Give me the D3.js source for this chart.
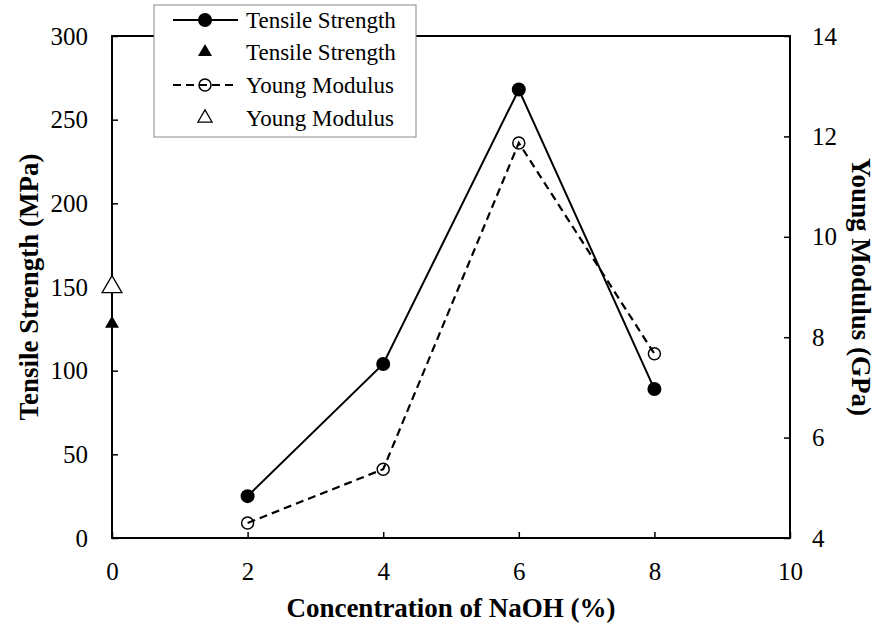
<!DOCTYPE html>
<html>
<head>
<meta charset="utf-8">
<script src="https://cdn.jsdelivr.net/npm/d3@7"></script>
<style>
    body { margin: 0; background: #fff; }
    text { font-family: "Liberation Serif", "Times New Roman", "DejaVu Serif", serif; fill: #000; }
    .axis path { display: none; }
    .axis line { stroke: #000; stroke-width: 1.5; }
    .axis text { font-size: 25px; }
    .title { font-size: 27px; font-weight: bold; }
    .legendText { font-size: 23px; }
</style>
</head>
<body>
<script>
(function(){

    //chart values
    var concentration = [2, 4, 6, 8];            //NaOH concentration (%)
    var tensileStrength = [25, 104, 268, 89];    //MPa
    var youngModulus = [4.3, 5.37, 11.87, 7.67]; //GPa
    var untreatedConc = [0];
    var untreatedTensile = [128];
    var untreatedYoung = [9.0];

    var xTicks = [0, 2, 4, 6, 8, 10];
    var yLeftTicks = [0, 50, 100, 150, 200, 250, 300];
    var yRightTicks = [4, 6, 8, 10, 12, 14];
    var legendLabels = ["Tensile Strength", "Tensile Strength", "Young Modulus", "Young Modulus"];

    window.onload = setChart();

    function setChart(){
        var width = 877,
            height = 625,
            left = 112,
            right = 790,
            top = 36,
            bottom = 538;

        var svg = d3.select("body")
            .append("svg")
            .attr("width", width)
            .attr("height", height);

        //scales
        var x = d3.scaleLinear().domain([0, 10]).range([left, right]);
        var yLeft = d3.scaleLinear().domain([0, 300]).range([bottom, top]);
        var yRight = d3.scaleLinear().domain([4, 14]).range([bottom, top]);

        //axes with inward ticks
        svg.append("g")
            .attr("class", "axis")
            .attr("transform", "translate(" + left + ",0)")
            .call(d3.axisLeft(yLeft).tickValues(yLeftTicks).tickSize(-6).tickPadding(24));

        svg.append("g")
            .attr("class", "axis")
            .attr("transform", "translate(" + right + ",0)")
            .call(d3.axisRight(yRight).tickValues(yRightTicks).tickSize(-6).tickPadding(22));

        svg.append("g")
            .attr("class", "axis")
            .attr("transform", "translate(0," + bottom + ")")
            .call(d3.axisBottom(x).tickValues(xTicks).tickSize(-6).tickPadding(24));

        //plot frame
        svg.append("rect")
            .attr("x", left)
            .attr("y", top)
            .attr("width", right - left)
            .attr("height", bottom - top)
            .attr("fill", "none")
            .attr("stroke", "#000")
            .attr("stroke-width", 2);

        //tensile strength line
        var tensileLine = d3.line()
            .x(function(d, i){ return x(concentration[i]); })
            .y(function(d){ return yLeft(d); });

        svg.append("path")
            .datum(tensileStrength)
            .attr("d", tensileLine)
            .attr("fill", "none")
            .attr("stroke", "#000")
            .attr("stroke-width", 2);

        //young modulus line
        var youngLine = d3.line()
            .x(function(d, i){ return x(concentration[i]); })
            .y(function(d){ return yRight(d); });

        svg.append("path")
            .datum(youngModulus)
            .attr("d", youngLine)
            .attr("fill", "none")
            .attr("stroke", "#000")
            .attr("stroke-width", 2.2)
            .attr("stroke-dasharray", "8,5");

        //markers
        svg.selectAll(".tsDot")
            .data(tensileStrength)
            .enter()
            .append("circle")
            .attr("class", "tsDot")
            .attr("cx", function(d, i){ return x(concentration[i]); })
            .attr("cy", function(d){ return yLeft(d); })
            .attr("r", 7)
            .attr("fill", "#000");

        svg.selectAll(".ymDot")
            .data(youngModulus)
            .enter()
            .append("circle")
            .attr("class", "ymDot")
            .attr("cx", function(d, i){ return x(concentration[i]); })
            .attr("cy", function(d){ return yRight(d); })
            .attr("r", 6)
            .attr("fill", "none")
            .attr("stroke", "#000")
            .attr("stroke-width", 1.5);

        var bigTri = d3.symbol().type(d3.symbolTriangle).size(170);
        var smallTri = d3.symbol().type(d3.symbolTriangle).size(85);

        svg.selectAll(".ymTri")
            .data(untreatedYoung)
            .enter()
            .append("path")
            .attr("class", "ymTri")
            .attr("d", bigTri)
            .attr("transform", function(d, i){
                return "translate(" + x(untreatedConc[i]) + "," + yRight(d) + ")";
            })
            .attr("fill", "#fff")
            .attr("stroke", "#000")
            .attr("stroke-width", 1.3);

        svg.selectAll(".tsTri")
            .data(untreatedTensile)
            .enter()
            .append("path")
            .attr("class", "tsTri")
            .attr("d", smallTri)
            .attr("transform", function(d, i){
                return "translate(" + x(untreatedConc[i]) + "," + yLeft(d) + ")";
            })
            .attr("fill", "#000");

        //axis titles
        svg.append("text")
            .attr("class", "title")
            .attr("x", (left + right) / 2)
            .attr("y", 617)
            .attr("text-anchor", "middle")
            .text("Concentration of NaOH (%)");

        svg.append("text")
            .attr("class", "title")
            .attr("transform", "translate(38," + (top + bottom) / 2 + ") rotate(-90)")
            .attr("text-anchor", "middle")
            .text("Tensile Strength (MPa)");

        svg.append("text")
            .attr("class", "title")
            .attr("transform", "translate(852," + (top + bottom) / 2 + ") rotate(90)")
            .attr("text-anchor", "middle")
            .text("Young Modulus (GPa)");

        setLegend(svg);
    };

    //legend box in the top left corner
    function setLegend(svg){
        var legend = svg.append("g")
            .attr("transform", "translate(154,5)");

        legend.append("rect")
            .attr("width", 262)
            .attr("height", 132)
            .attr("fill", "#fff")
            .attr("stroke", "#888")
            .attr("stroke-width", 1);

        var rowY = [15, 47, 80, 113];
        var lineX1 = 19, lineX2 = 84, markX = 51;

        var rows = legend.selectAll(".legendRow")
            .data(legendLabels)
            .enter()
            .append("g")
            .attr("class", "legendRow")
            .attr("transform", function(d, i){ return "translate(0," + rowY[i] + ")"; });

        rows.append("text")
            .attr("class", "legendText")
            .attr("x", 92)
            .attr("dy", "0.35em")
            .text(function(d){ return d; });

        //row 1: solid line with filled circle
        rows.filter(function(d, i){ return i == 0; })
            .append("line")
            .attr("x1", lineX1).attr("x2", lineX2)
            .attr("stroke", "#000").attr("stroke-width", 2);
        rows.filter(function(d, i){ return i == 0; })
            .append("circle")
            .attr("cx", markX).attr("r", 7).attr("fill", "#000");

        //row 2: filled triangle
        rows.filter(function(d, i){ return i == 1; })
            .append("path")
            .attr("d", d3.symbol().type(d3.symbolTriangle).size(85))
            .attr("transform", "translate(" + markX + ",0)")
            .attr("fill", "#000");

        //row 3: dashed line with open circle
        rows.filter(function(d, i){ return i == 2; })
            .append("line")
            .attr("x1", lineX1).attr("x2", lineX2)
            .attr("stroke", "#000").attr("stroke-width", 2.2)
            .attr("stroke-dasharray", "8,5");
        rows.filter(function(d, i){ return i == 2; })
            .append("circle")
            .attr("cx", markX).attr("r", 6)
            .attr("fill", "none").attr("stroke", "#000").attr("stroke-width", 1.5);

        //row 4: open triangle
        rows.filter(function(d, i){ return i == 3; })
            .append("path")
            .attr("d", d3.symbol().type(d3.symbolTriangle).size(85))
            .attr("transform", "translate(" + markX + ",0)")
            .attr("fill", "#fff")
            .attr("stroke", "#000")
            .attr("stroke-width", 1.3);
    };

})();
</script>
</body>
</html>
